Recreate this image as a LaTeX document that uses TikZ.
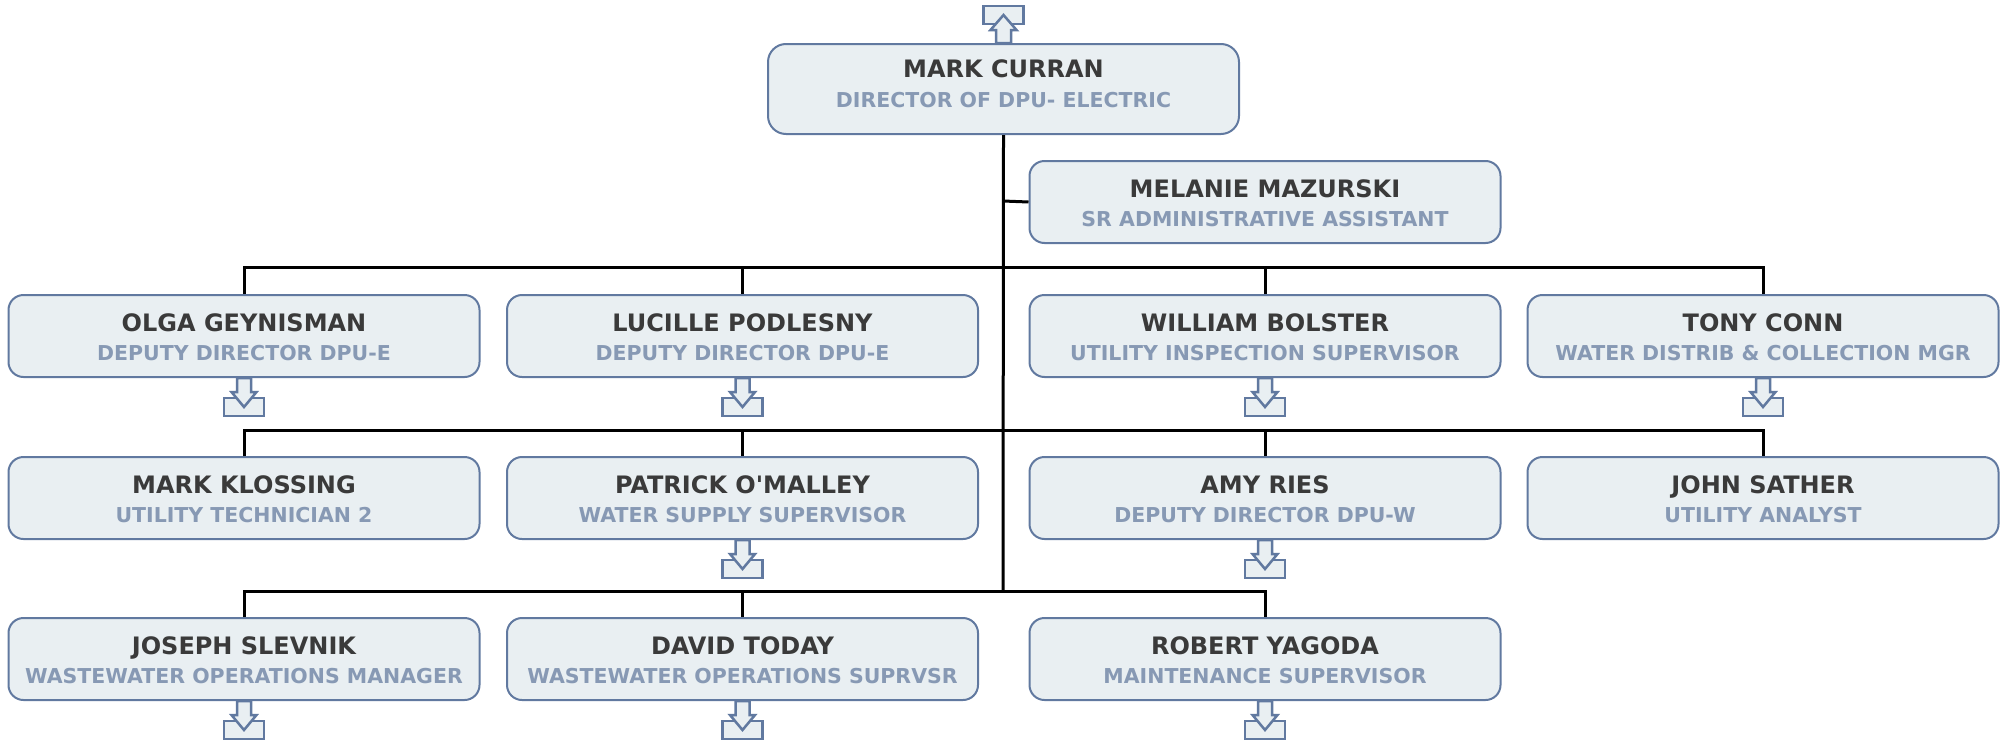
\documentclass[tikz,border=0pt]{standalone}
\usepackage{fontspec}
\newfontfamily\dv{DejaVu Sans}
\definecolor{boxfill}{HTML}{E9EFF2}
\definecolor{boxline}{HTML}{6179A0}
\definecolor{namecol}{HTML}{3A3A3A}
\definecolor{titlecol}{HTML}{8799B4}
\newcommand\dnicon[1]{%
  \begin{scope}[shift={(#1.south)}]
    \draw[icon] (-20,20) rectangle (20,38);
    \draw[icon] (-7,0) -- (-7,14) -- (-12.5,14) -- (0,29) -- (12.5,14) -- (7,14) -- (7,0) -- cycle;
  \end{scope}}
\newcommand\person[3]{%
  \node[nm] at ([yshift=-37.5pt]#1.north) {#2};
  \node[tt] at ([yshift=-66.5pt]#1.north) {#3};}
\begin{document}
\begin{tikzpicture}[x=1pt,y=-1pt,
  card/.style={draw=boxline, line width=2pt, fill=boxfill, rounded corners=15pt,
    minimum width=471pt, minimum height=82pt, inner sep=0pt, anchor=north},
  nm/.style={font=\fontsize{24}{28}\dv\bfseries, text=namecol, inner sep=0pt, anchor=base},
  tt/.style={font=\fontsize{20.5}{24}\dv\bfseries, text=titlecol, inner sep=0pt, anchor=base},
  conn/.style={line width=3pt, black},
  icon/.style={draw=boxline, line width=2.5pt, fill=boxfill}]
\useasboundingbox (0,0) rectangle (2007,739);

\coordinate (b1) at (1003,267.5);
\coordinate (b2) at (1003,430);
\coordinate (b3) at (1003,591);
\coordinate (mel) at (1003,201);

% boxes
\node[card, minimum height=90pt, rounded corners=18pt] (curran) at (1003.5,43) {};
\node[card] (mazurski) at (1265,160) {};
\node[card] (geynisman) at (244,294) {};
\node[card] (podlesny) at (742.5,294) {};
\node[card] (bolster) at (1265,294) {};
\node[card] (conn) at (1763,294) {};
\node[card] (klossing) at (244,456) {};
\node[card] (omalley) at (742.5,456) {};
\node[card] (ries) at (1265,456) {};
\node[card] (sather) at (1763,456) {};
\node[card] (slevnik) at (244,617) {};
\node[card] (today) at (742.5,617) {};
\node[card] (yagoda) at (1265,617) {};

\draw[conn] (curran.south) -- (b3);
\draw[conn] (mel) -- (mazurski.west);
\draw[conn] (geynisman.north) -- (geynisman.north |- b1) -- (conn.north |- b1) -- (conn.north);
\draw[conn] (podlesny.north) -- (podlesny.north |- b1);
\draw[conn] (bolster.north) -- (bolster.north |- b1);
\draw[conn] (klossing.north) -- (klossing.north |- b2) -- (sather.north |- b2) -- (sather.north);
\draw[conn] (omalley.north) -- (omalley.north |- b2);
\draw[conn] (ries.north) -- (ries.north |- b2);
\draw[conn] (slevnik.north) -- (slevnik.north |- b3) -- (yagoda.north |- b3) -- (yagoda.north);
\draw[conn] (today.north) -- (today.north |- b3);

% texts
\node[nm] at ([yshift=-34pt]curran.north) {MARK CURRAN};
\node[tt] at ([yshift=-64pt]curran.north) {DIRECTOR OF DPU- ELECTRIC};
\person{mazurski}{MELANIE MAZURSKI}{SR ADMINISTRATIVE ASSISTANT}
\person{geynisman}{OLGA GEYNISMAN}{DEPUTY DIRECTOR DPU-E}
\person{podlesny}{LUCILLE PODLESNY}{DEPUTY DIRECTOR DPU-E}
\person{bolster}{WILLIAM BOLSTER}{UTILITY INSPECTION SUPERVISOR}
\person{conn}{TONY CONN}{WATER DISTRIB \& COLLECTION MGR}
\person{klossing}{MARK KLOSSING}{UTILITY TECHNICIAN 2}
\person{omalley}{PATRICK O'MALLEY}{WATER SUPPLY SUPERVISOR}
\person{ries}{AMY RIES}{DEPUTY DIRECTOR DPU-W}
\person{sather}{JOHN SATHER}{UTILITY ANALYST}
\person{slevnik}{JOSEPH SLEVNIK}{WASTEWATER OPERATIONS MANAGER}
\person{today}{DAVID TODAY}{WASTEWATER OPERATIONS SUPRVSR}
\person{yagoda}{ROBERT YAGODA}{MAINTENANCE SUPERVISOR}

% icons
\begin{scope}[shift={(curran.north)}]
  \draw[icon] (-20,-37) rectangle (20,-19);
  \draw[icon] (-7.5,0) -- (-7.5,-13) -- (-13,-13) -- (0,-28) -- (13,-13) -- (7.5,-13) -- (7.5,0) -- cycle;
\end{scope}
\dnicon{geynisman}
\dnicon{podlesny}
\dnicon{bolster}
\dnicon{conn}
\dnicon{omalley}
\dnicon{ries}
\dnicon{slevnik}
\dnicon{today}
\dnicon{yagoda}
\end{tikzpicture}
\end{document}
